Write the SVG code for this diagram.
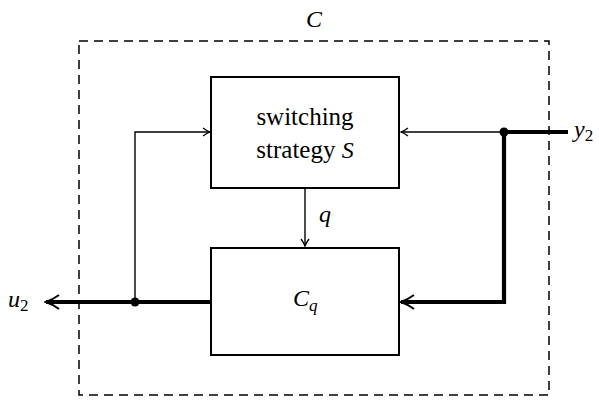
<svg xmlns="http://www.w3.org/2000/svg" width="599" height="403" viewBox="0 0 599 403">
<style>
.box{fill:#fff;stroke:#000;stroke-width:2}
.thin{fill:none;stroke:#000;stroke-width:1.4}
.thick{fill:none;stroke:#000;stroke-width:4.2}
.t{font-family:"Liberation Serif","DejaVu Serif",serif;font-size:25px;fill:#000}
.m{font-family:"Liberation Serif","DejaVu Serif",serif;font-style:italic;font-size:24px;fill:#000}
.s{font-family:"Liberation Serif","DejaVu Serif",serif;font-style:normal;font-size:17px;fill:#000}
.si{font-family:"Liberation Serif","DejaVu Serif",serif;font-style:italic;font-size:17px;fill:#000}
</style>
<defs>
<marker id="a" markerUnits="userSpaceOnUse" viewBox="-12 -7 14 14" refX="0" refY="0" markerWidth="14" markerHeight="14" orient="auto">
<path d="M -7,-4 Q -3,-1 0,0 Q -3,1 -7,4" fill="none" stroke="#000" stroke-width="1.3"/>
</marker>
<marker id="A" markerUnits="userSpaceOnUse" viewBox="-16 -9 18 18" refX="0" refY="0" markerWidth="18" markerHeight="18" orient="auto">
<path d="M -13,-7 Q -6,-2 0,0 Q -6,2 -13,7" fill="none" stroke="#000" stroke-width="2"/>
</marker>
</defs>
<g id="container">
<rect x="79" y="41" width="470" height="354" fill="none" stroke="#000" stroke-width="1.5" stroke-dasharray="9,6"/>
<text class="m" x="314" y="27" text-anchor="middle">C</text>
</g>
<g id="connectors">
<line class="thin" x1="305" y1="188" x2="305" y2="246" marker-end="url(#a)"/>
<polyline class="thin" points="135,302 135,132 210,132" marker-end="url(#a)"/>
<line class="thin" x1="504" y1="132" x2="401" y2="132" marker-end="url(#a)"/>
<line class="thick" x1="568" y1="132" x2="504" y2="132"/>
<polyline class="thick" points="504,132 504,302 401,302" marker-end="url(#A)"/>
<line class="thick" x1="211" y1="302" x2="46" y2="302" marker-end="url(#A)"/>
<circle cx="504" cy="132" r="4.5" fill="#000"/>
<circle cx="135" cy="302" r="4.5" fill="#000"/>
<text class="m" x="319" y="222">q</text>
<text class="m" x="8" y="307">u<tspan class="s" dy="4">2</tspan></text>
<text class="m" x="574" y="137">y<tspan class="s" dy="4">2</tspan></text>
</g>
<g id="strategy">
<rect class="box" x="211" y="77" width="188" height="111"/>
<text class="t" x="305" y="125" text-anchor="middle">switching</text>
<text class="t" x="305" y="158" text-anchor="middle">strategy <tspan class="m">S</tspan></text>
</g>
<g id="controller">
<rect class="box" x="211" y="248" width="188" height="107"/>
<text class="m" x="293" y="306">C<tspan class="si" dy="5">q</tspan></text>
</g>
</svg>
